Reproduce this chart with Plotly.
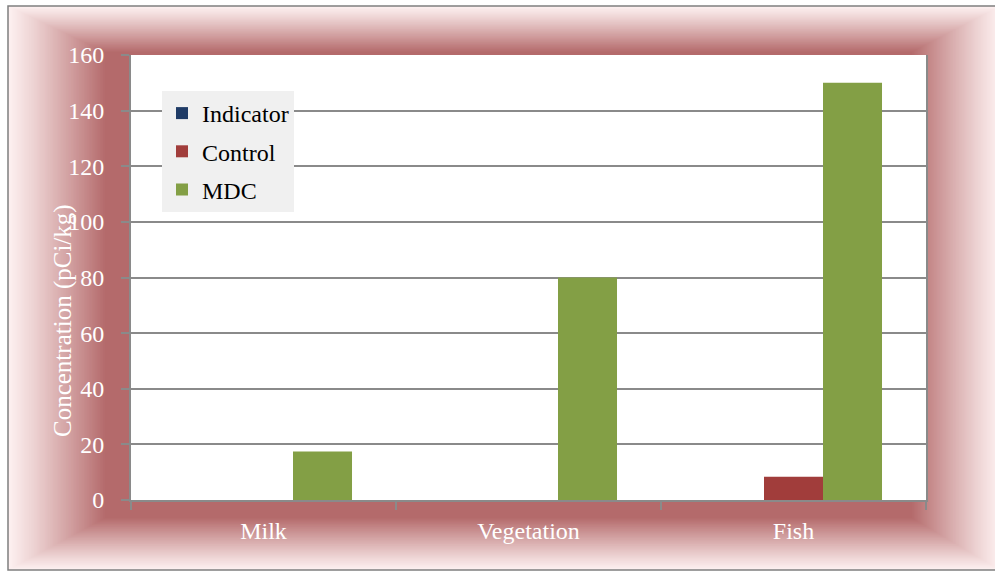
import plotly.graph_objects as go

categories = ["Milk", "Vegetation", "Fish"]
indicator = [0, 0, 0]
control = [0, 0, 8.4]
mdc = [17.4, 80, 150]

FONT = "Liberation Serif"
W, H = 995, 571
L, R, T, B = 131, 69, 55, 71
PW, PH = W - L - R, H - T - B


def X(px):
    return (px - L) / PW


def Y(py):
    return (H - B - py) / PH


def lerp(a, b, t):
    return a + (b - a) * t


outer_c = (253, 240, 240)
inner_c = (180, 106, 107)
outer_r = (8, 6, 1000, 570)
inner_r = (105, 52, 912, 518)

shapes = []
N = 60
for i in range(N + 1):
    t = i / N
    f = t ** 1.1
    c = tuple(int(round(lerp(outer_c[k], inner_c[k], f))) for k in range(3))
    x0 = lerp(outer_r[0], inner_r[0], t)
    y0 = lerp(outer_r[1], inner_r[1], t)
    x1 = lerp(outer_r[2], inner_r[2], t)
    y1 = lerp(outer_r[3], inner_r[3], t)
    shapes.append(dict(type="rect", xref="paper", yref="paper",
                       x0=X(x0), x1=X(x1), y0=Y(y1), y1=Y(y0),
                       fillcolor="rgb(%d,%d,%d)" % c, line=dict(width=0),
                       layer="below"))
# plot area white
shapes.append(dict(type="rect", xref="paper", yref="paper", x0=0, x1=1, y0=0, y1=1,
                   fillcolor="white", line=dict(width=0), layer="below"))
# outer frame border
shapes.append(dict(type="rect", xref="paper", yref="paper",
                   x0=X(8), x1=X(1000), y0=Y(570), y1=Y(6),
                   fillcolor="rgba(0,0,0,0)", line=dict(color="#7f7f7f", width=1.5),
                   layer="below"))

fig = go.Figure()
series = [("Indicator", indicator, "#1f3b66"),
          ("Control", control, "#a13d3b"),
          ("MDC", mdc, "#839f45")]
for name, vals, col in series:
    fig.add_trace(go.Bar(x=categories, y=vals, name=name, legendgroup=name,
                         marker=dict(color=col, line=dict(width=0))))

grid = "#8a8a8a"
fig.update_layout(
    width=W, height=H,
    margin=dict(l=L, r=R, t=T, b=B),
    paper_bgcolor="white",
    plot_bgcolor="white",
    barmode="group",
    bargap=0.332,
    bargroupgap=0,
    shapes=shapes,
    font=dict(family=FONT, size=24, color="white"),
    legend=dict(x=X(162), y=Y(91), xanchor="left", yanchor="top",
                bgcolor="#f0f0f0", borderwidth=0,
                font=dict(family=FONT, size=24, color="black"),
                traceorder="grouped", tracegroupgap=4,
                itemwidth=30),
    xaxis=dict(showline=True, linecolor=grid, linewidth=2,
               ticks="outside", ticklen=8, tickwidth=2, tickcolor=grid,
               tickson="boundaries", showgrid=False,
               tickfont=dict(family=FONT, size=24, color="white"),
               ticklabelstandoff=8),
    yaxis=dict(range=[0, 160], dtick=20, showline=True, mirror=True,
               linecolor=grid, linewidth=2, showgrid=True, gridcolor=grid,
               gridwidth=2, zeroline=False,
               ticks="outside", ticklen=8, tickwidth=2, tickcolor=grid,
               tickfont=dict(family=FONT, size=24, color="white"),
               ticklabelstandoff=12),
    annotations=[dict(text="Concentration (pCi/kg)", x=X(63), y=Y(321),
                      xref="paper", yref="paper", showarrow=False,
                      textangle=-90, font=dict(family=FONT, size=25, color="white"),
                      xanchor="center", yanchor="middle")],
)

fig.write_html("out.html")
